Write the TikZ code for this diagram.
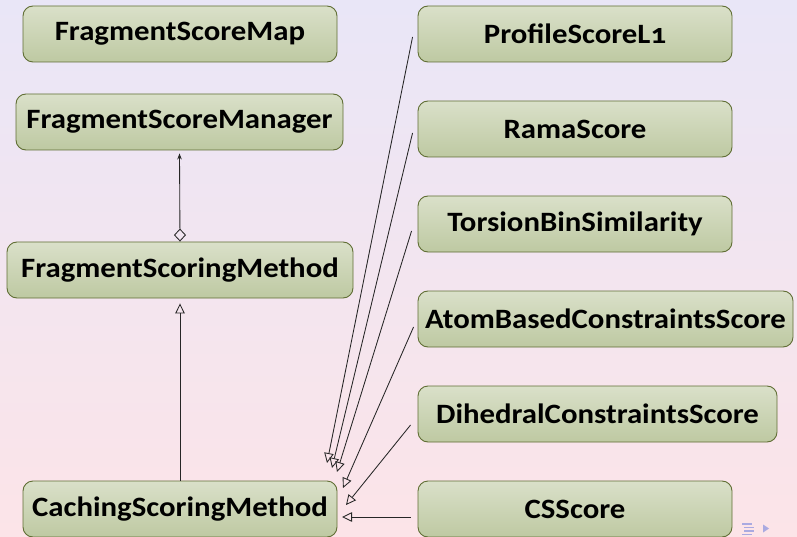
\documentclass[tikz,border=0pt]{standalone}
\usepackage{fontspec}
\setmainfont{Carlito}[Numbers=OldStyle]
\newfontfamily\boxfont{Carlito}[Numbers=OldStyle, FakeStretch=1.1]
\usetikzlibrary{arrows.meta}
\definecolor{bgtop}{RGB}{233,230,247}
\definecolor{bgbot}{RGB}{252,228,232}
\definecolor{boxtop}{RGB}{218,224,201}
\definecolor{boxbot}{RGB}{190,201,162}
\definecolor{boxline}{RGB}{96,110,52}
\definecolor{navcol}{RGB}{170,170,225}
\tikzset{
  cls/.style={draw=boxline, line width=0.9pt, rounded corners=10pt,
    top color=boxtop, bottom color=boxbot, minimum height=56pt,
    inner sep=0pt, text=black, font=\boxfont\bfseries\fontsize{28}{32}\selectfont},
  inh/.style={draw=black!85, line width=0.85pt, -{Triangle[open, length=10pt, width=9.5pt]}},
  agg/.style={draw=black!85, line width=0.85pt,
    {Diamond[open, length=13pt, width=12pt]}-{Stealth[length=6pt, width=4.5pt]}},
}
\begin{document}
\begin{tikzpicture}[x=1pt,y=-1pt]
\useasboundingbox (0,0) rectangle (797,537);
\fill[top color=bgtop, bottom color=bgbot] (0,0) rectangle (797,537);
% left column
\node[cls, minimum width=314pt] (map)  at (180,34)  {FragmentScoreMap};
\node[cls, minimum width=327pt] (mgr)  at (179.5,122) {FragmentScoreManager};
\node[cls, minimum width=346pt] (fsm)  at (180,270) {FragmentScoringMethod};
\node[cls, minimum width=314pt] (cach) at (180,509) {CachingScoringMethod};
% right column
\node[cls, minimum width=314pt] (prof) at (575,34)  {ProfileScoreL1};
\node[cls, minimum width=314pt] (rama) at (575,129) {RamaScore};
\node[cls, minimum width=314pt] (tors) at (575,224) {TorsionBinSimilarity};
\node[cls, minimum width=375pt] (atom) at (605.5,319) {AtomBasedConstraintsScore};
\node[cls, minimum width=359pt] (dihe) at (597.5,414) {DihedralConstraintsScore};
\node[cls, minimum width=314pt] (cs)   at (575,509) {CSScore};
% arrow end points near CachingScoringMethod
\coordinate (e1) at (327,463);
\coordinate (e2) at (332,468);
\coordinate (e3) at (337,472);
\coordinate (e4) at (343,488);
\coordinate (e5) at (346,505);
\coordinate (e6) at (342,517);
% aggregation
\draw[agg] (fsm.north) -- ([yshift=-3pt]mgr.south);
% inheritance
\draw[inh] (cach.north) -- ([yshift=-5pt]fsm.south);
\draw[inh] ([xshift=-5pt,yshift=-3pt]prof.west) -- (e1);
\draw[inh] ([xshift=-5pt,yshift=-4pt]rama.west) -- (e2);
\draw[inh] ([xshift=-6pt,yshift=-7pt]tors.west) -- (e3);
\draw[inh] ([xshift=-4pt,yshift=-8pt]atom.west) -- (e4);
\draw[inh] ([xshift=-7pt,yshift=-11pt]dihe.west) -- (e5);
\draw[inh] ([xshift=-7pt,yshift=-8pt]cs.west) -- (e6);
% navigation symbols
\begin{scope}[navcol, line width=1.2pt]
\draw (742,524) -- (752,524);
\draw (744,527.5) -- (754,527.5);
\draw (744,531) -- (754,531);
\draw (742,534.5) -- (752,534.5);
\fill (763,524.5) -- (769,528.5) -- (763,532.5) -- cycle;
\end{scope}
\end{tikzpicture}
\end{document}
